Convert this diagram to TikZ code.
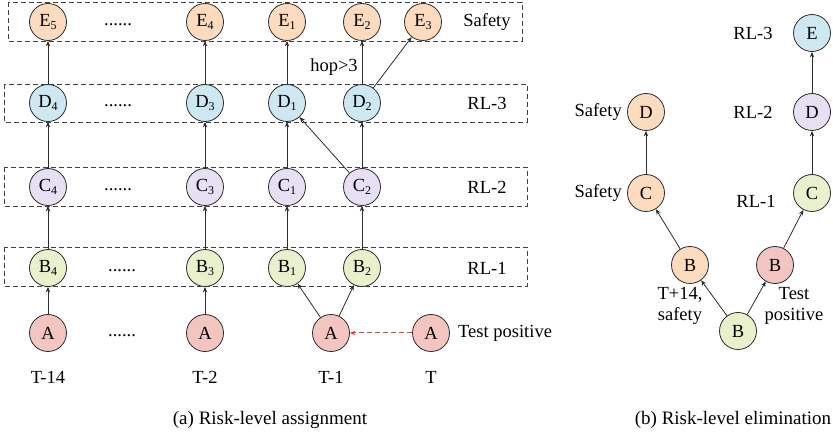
\documentclass[tikz,border=0pt]{standalone}
\usepackage{fontspec}
\setmainfont{Liberation Serif}
\usetikzlibrary{arrows.meta}
\definecolor{cE}{RGB}{252,219,191}
\definecolor{cD}{RGB}{206,232,242}
\definecolor{cC}{RGB}{231,223,242}
\definecolor{cB}{RGB}{233,240,204}
\definecolor{cA}{RGB}{242,197,193}
\definecolor{edge}{RGB}{45,45,45}
\definecolor{redash}{RGB}{220,60,50}
\newcommand\sbs[1]{\raisebox{-2.5pt}{\fontsize{12}{12}\selectfont #1}}
\begin{document}
\begin{tikzpicture}[x=1pt,y=-1pt,
  font=\fontsize{18.5}{21.5}\selectfont,
  nd/.style={circle,draw=edge,line width=0.8pt,minimum size=37pt,inner sep=0pt},
  ne/.style={nd,fill=cE}, ndd/.style={nd,fill=cD}, nc/.style={nd,fill=cC},
  nb/.style={nd,fill=cB}, na/.style={nd,fill=cA},
  arr/.style={draw=edge,line width=0.8pt,-{Stealth[length=5.5pt,width=4.5pt]}},
  rarr/.style={draw=redash,line width=1pt,dash pattern=on 5pt off 3pt,-{Stealth[length=5.5pt,width=4.5pt]}},
  rowbox/.style={draw=black!75,line width=0.8pt,dash pattern=on 5pt off 3pt},
  dots/.style={anchor=base,inner sep=0pt},
  lbl/.style={inner sep=0pt},
  captxt/.style={inner sep=0pt,font=\fontsize{19}{22}\selectfont}]
\useasboundingbox (0,0) rectangle (833,438);
% row boxes
\draw[rowbox] (8,2) rectangle (522,41);
\draw[rowbox] (4,84) rectangle (527,122);
\draw[rowbox] (4,167) rectangle (527,206);
\draw[rowbox] (4,247) rectangle (527,286);
% nodes (a)
\node[ne] (E5) at (48,22) {E\sbs{5}};
\node[ne] (E4) at (205,22) {E\sbs{4}};
\node[ne] (E1) at (287,22) {E\sbs{1}};
\node[ne] (E2) at (362,22) {E\sbs{2}};
\node[ne] (E3) at (423,22) {E\sbs{3}};
\node[ndd] (D4) at (48,103) {D\sbs{4}};
\node[ndd] (D3) at (205,103) {D\sbs{3}};
\node[ndd] (D1) at (287,103) {D\sbs{1}};
\node[ndd] (D2) at (362,103) {D\sbs{2}};
\node[nc] (C4) at (48,187) {C\sbs{4}};
\node[nc] (C3) at (205,187) {C\sbs{3}};
\node[nc] (C1) at (287,187) {C\sbs{1}};
\node[nc] (C2) at (362,187) {C\sbs{2}};
\node[nb] (B4) at (48,268) {B\sbs{4}};
\node[nb] (B3) at (205,268) {B\sbs{3}};
\node[nb] (B1) at (287,268) {B\sbs{1}};
\node[nb] (B2) at (362,268) {B\sbs{2}};
\node[na] (A14) at (48,333) {A};
\node[na] (A2) at (205,333) {A};
\node[na] (A1) at (331,333) {A};
\node[na] (A0) at (431,333) {A};
% dots
\node[dots] (d1) at (118,26) {......};
\node[dots] (d2) at (118,107) {......};
\node[dots] (d3) at (118,191) {......};
\node[dots] (d4) at (122,272) {......};
\node[dots] (d5) at (122,337) {......};
% row labels
\node[lbl] (lS) at (487,22) {Safety};
\node[lbl] (l3) at (487,103) {RL-3};
\node[lbl] (l2) at (487,187) {RL-2};
\node[lbl] (l1) at (487,268) {RL-1};
\node[lbl] (hop) at (334,67) {hop>3};
\node[lbl,anchor=west] (tp) at (458,333) {Test positive};
% time labels
\node[lbl] (t14) at (48,377) {T-14};
\node[lbl] (t2) at (205,377) {T-2};
\node[lbl] (t1) at (331,377) {T-1};
\node[lbl] (t0) at (431,377) {T};
\node[captxt] (capa) at (270,420) {(a) Risk-level assignment};
% edges (a)
\draw[arr] (A14) -- (B4); \draw[arr] (B4) -- (C4); \draw[arr] (C4) -- (D4); \draw[arr] (D4) -- (E5);
\draw[arr] (A2) -- (B3); \draw[arr] (B3) -- (C3); \draw[arr] (C3) -- (D3); \draw[arr] (D3) -- (E4);
\draw[arr] (A1) -- (B1); \draw[arr] (A1) -- (B2);
\draw[arr] (B1) -- (C1); \draw[arr] (C1) -- (D1); \draw[arr] (D1) -- (E1);
\draw[arr] (B2) -- (C2); \draw[arr] (C2) -- (D2); \draw[arr] (D2) -- (E2);
\draw[arr] (C2) -- (D1); \draw[arr] (D2) -- (E3);
\draw[rarr] (A0) -- (A1);
% part (b)
\node[ne] (bD) at (646,112) {D};
\node[ne] (bC) at (646,193) {C};
\node[ne] (bBo) at (690,265) {B};
\node[nb] (bBg) at (738,331) {B};
\node[na] (bBr) at (775,265) {B};
\node[nb] (rC) at (812,193) {C};
\node[nc] (rD) at (812,112) {D};
\node[ndd] (rE) at (812,33) {E};
\node[lbl,anchor=east] (sD) at (622,112) {Safety};
\node[lbl,anchor=east] (sC) at (622,193) {Safety};
\node[lbl] (r3) at (753,33) {RL-3};
\node[lbl] (r2) at (753,112) {RL-2};
\node[lbl] (r1) at (756,201) {RL-1};
\node[lbl,align=center] (t14s) at (680,306) {T+14,\\safety};
\node[lbl,align=center] (tpos) at (794,306) {Test\\positive};
\node[captxt] (capb) at (733,420) {(b) Risk-level elimination};
\draw[arr] (bBg) -- (bBo); \draw[arr] (bBg) -- (bBr);
\draw[arr] (bBo) -- (bC); \draw[arr] (bC) -- (bD);
\draw[arr] (bBr) -- (rC); \draw[arr] (rC) -- (rD); \draw[arr] (rD) -- (rE);
\end{tikzpicture}
\end{document}
